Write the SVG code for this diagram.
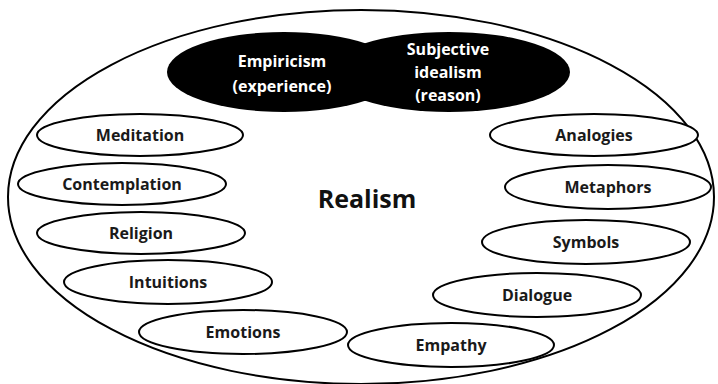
<svg xmlns="http://www.w3.org/2000/svg" width="718" height="384" viewBox="0 0 718 384">
<style>
.node ellipse{fill:#fff;stroke:#000;stroke-width:2}
.t{font-family:"Open Sans","Liberation Sans",sans-serif;font-weight:700;font-size:16px;fill:#1a1a1a;text-anchor:middle}
.w{font-family:"Open Sans","Liberation Sans",sans-serif;font-weight:700;font-size:16px;fill:#fff;text-anchor:middle}
.big{font-family:"Open Sans","Liberation Sans",sans-serif;font-weight:700;font-size:25px;fill:#111;text-anchor:middle}
</style>
<rect width="718" height="384" fill="#fff"/>
<g id="realism">
<ellipse cx="361" cy="197" rx="353" ry="187" fill="#fff" stroke="#000" stroke-width="2"/>
<text class="big" x="367" y="208">Realism</text>
</g>
<g id="empiricism">
<ellipse cx="284" cy="72" rx="117" ry="40" fill="#000"/>
</g>
<g id="subjective-idealism">
<ellipse cx="449" cy="72" rx="121" ry="40" fill="#000"/>
</g>
<g id="labels-top">
<text class="w" x="282" y="67">Empiricism</text>
<text class="w" x="282" y="92">(experience)</text>
<text class="w" x="448" y="55">Subjective</text>
<text class="w" x="448" y="78">idealism</text>
<text class="w" x="448" y="101">(reason)</text>
</g>
<g id="meditation" class="node"><ellipse cx="140" cy="135" rx="103" ry="21"/><text class="t" x="140" y="141">Meditation</text></g>
<g id="contemplation" class="node"><ellipse cx="122" cy="184" rx="104" ry="21"/><text class="t" x="122" y="190">Contemplation</text></g>
<g id="religion" class="node"><ellipse cx="141" cy="233" rx="104" ry="21"/><text class="t" x="141" y="239">Religion</text></g>
<g id="intuitions" class="node"><ellipse cx="168" cy="282" rx="104" ry="22"/><text class="t" x="168" y="288">Intuitions</text></g>
<g id="emotions" class="node"><ellipse cx="243" cy="332" rx="104" ry="22"/><text class="t" x="243" y="338">Emotions</text></g>
<g id="analogies" class="node"><ellipse cx="594" cy="135" rx="104" ry="21"/><text class="t" x="594" y="141">Analogies</text></g>
<g id="metaphors" class="node"><ellipse cx="608" cy="187" rx="103" ry="22"/><text class="t" x="608" y="193">Metaphors</text></g>
<g id="symbols" class="node"><ellipse cx="586" cy="242" rx="104" ry="22"/><text class="t" x="586" y="248">Symbols</text></g>
<g id="dialogue" class="node"><ellipse cx="537" cy="295" rx="104" ry="22"/><text class="t" x="537" y="301">Dialogue</text></g>
<g id="empathy" class="node"><ellipse cx="451" cy="345" rx="103" ry="22"/><text class="t" x="451" y="351">Empathy</text></g>
<g id="connectors"/>
</svg>
